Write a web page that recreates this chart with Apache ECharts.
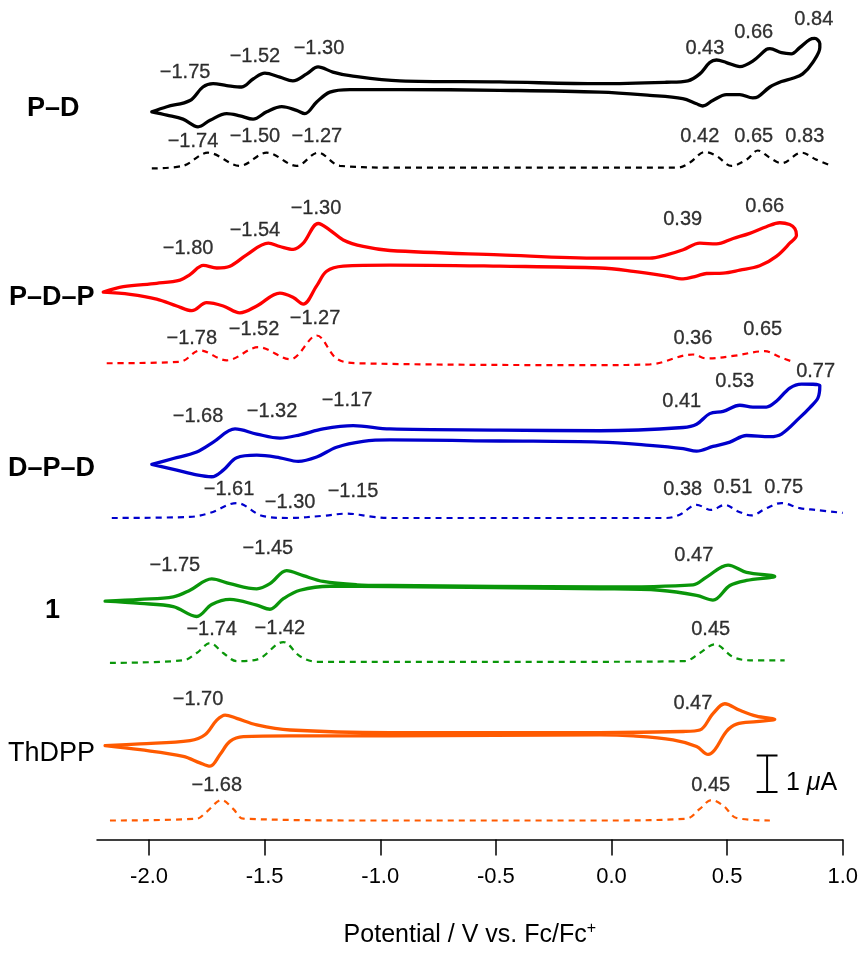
<!DOCTYPE html>
<html>
<head>
<meta charset="utf-8">
<script src="https://cdn.jsdelivr.net/npm/echarts@6/dist/echarts.min.js"></script>
<style>
html,body{margin:0;padding:0;background:#fff;}
#chart{width:861px;height:953px;}
</style>
</head>
<body>
<div id="chart"></div>
<script>
// ---------- data ----------
const potentialTicks = [-2.0, -1.5, -1.0, -0.5, 0.0, 0.5, 1.0];
const traceNames = ['P–D', 'P–D–P', 'D–P–D', '1', 'ThDPP'];
const traceColors = ['#000000', '#ff0000', '#0000cc', '#0a960a', '#ff5a00'];
// vertical offsets of each trace (µA)
const cvOffsets = [20.57, 15.76, 10.95, 6.89, 2.84];
const dpvOffsets = [18.41, 13.05, 8.81, 4.86, 0.54];

// cyclic voltammograms [potential V, current µA]
const cvPD = [[-1.988,-0.63],[-1.923,-0.49],[-1.823,-0.32],[-1.767,0.05],[-1.723,0.14],[-1.664,0.09],[-1.599,0.05],[-1.550,0.27],[-1.499,0.43],[-1.434,0.32],[-1.378,0.22],[-1.318,0.41],[-1.269,0.60],[-1.205,0.46],[-1.131,0.36],[-0.915,0.22],[-0.483,0.19],[-0.050,0.14],[0.238,0.18],[0.330,0.22],[0.382,0.41],[0.425,0.72],[0.454,0.79],[0.497,0.72],[0.555,0.61],[0.611,0.76],[0.670,1.08],[0.685,1.10],[0.735,0.99],[0.778,0.96],[0.814,1.13],[0.857,1.35],[0.879,1.38],[0.901,1.24],[0.901,1.13],[0.870,0.72],[0.827,0.41],[0.784,0.29],[0.735,0.20],[0.685,0.05],[0.633,-0.22],[0.611,-0.25],[0.555,-0.16],[0.497,-0.16],[0.438,-0.32],[0.395,-0.47],[0.368,-0.41],[0.308,-0.27],[0.166,-0.18],[-0.050,-0.09],[-0.483,-0.04],[-0.915,-0.02],[-1.131,-0.02],[-1.218,-0.09],[-1.275,-0.36],[-1.326,-0.68],[-1.362,-0.59],[-1.426,-0.49],[-1.491,-0.63],[-1.550,-0.83],[-1.607,-0.74],[-1.664,-0.68],[-1.736,-0.86],[-1.788,-1.04],[-1.853,-0.83],[-1.923,-0.72],[-1.988,-0.63]];
const cvPDP = [[-2.198,-0.76],[-2.111,-0.61],[-1.967,-0.52],[-1.866,-0.43],[-1.823,-0.28],[-1.765,-0.03],[-1.707,-0.10],[-1.650,-0.05],[-1.578,0.26],[-1.484,0.58],[-1.434,0.49],[-1.376,0.41],[-1.333,0.58],[-1.268,1.12],[-1.218,0.94],[-1.160,0.67],[-1.074,0.49],[-0.958,0.38],[-0.483,0.26],[-0.050,0.17],[0.166,0.17],[0.238,0.26],[0.310,0.40],[0.382,0.58],[0.454,0.56],[0.526,0.71],[0.598,0.85],[0.670,1.03],[0.728,1.14],[0.771,1.09],[0.793,0.98],[0.800,0.80],[0.771,0.58],[0.713,0.22],[0.641,-0.04],[0.555,-0.16],[0.483,-0.24],[0.411,-0.25],[0.368,-0.32],[0.310,-0.40],[0.238,-0.32],[0.094,-0.19],[-0.050,-0.10],[-0.483,-0.05],[-0.958,-0.02],[-1.160,-0.05],[-1.232,-0.19],[-1.275,-0.59],[-1.333,-1.09],[-1.376,-0.91],[-1.434,-0.79],[-1.534,-1.14],[-1.607,-1.33],[-1.679,-1.14],[-1.751,-1.05],[-1.815,-1.27],[-1.880,-1.14],[-1.967,-0.95],[-2.082,-0.82],[-2.198,-0.76]];
const cvDPD = [[-1.988,-0.67],[-1.895,-0.51],[-1.794,-0.33],[-1.722,-0.06],[-1.628,0.30],[-1.534,0.16],[-1.434,0.05],[-1.347,0.14],[-1.247,0.30],[-1.117,0.39],[-0.958,0.30],[-0.483,0.27],[-0.050,0.25],[0.310,0.34],[0.368,0.43],[0.425,0.72],[0.483,0.78],[0.555,0.95],[0.612,0.90],[0.670,0.90],[0.713,1.06],[0.771,1.42],[0.822,1.53],[0.901,1.49],[0.893,1.15],[0.857,0.88],[0.814,0.61],[0.735,0.16],[0.685,0.09],[0.584,0.12],[0.512,-0.06],[0.439,-0.18],[0.368,-0.31],[0.310,-0.24],[0.166,-0.15],[-0.050,-0.06],[-0.483,-0.03],[-0.958,0.00],[-1.074,-0.04],[-1.189,-0.20],[-1.275,-0.47],[-1.355,-0.59],[-1.434,-0.49],[-1.534,-0.42],[-1.621,-0.49],[-1.679,-0.83],[-1.729,-1.01],[-1.794,-0.96],[-1.880,-0.83],[-1.988,-0.67]];
const cv1 = [[-2.190,-0.36],[-2.039,-0.31],[-1.895,-0.24],[-1.823,-0.06],[-1.729,0.25],[-1.650,0.12],[-1.534,-0.02],[-1.477,0.12],[-1.405,0.48],[-1.333,0.34],[-1.247,0.18],[-1.102,0.09],[-0.958,0.07],[-0.050,0.03],[0.353,0.09],[0.411,0.30],[0.504,0.63],[0.584,0.43],[0.706,0.32],[0.584,0.21],[0.512,0.07],[0.439,-0.33],[0.368,-0.20],[0.209,-0.06],[-0.050,-0.02],[-0.958,0.04],[-1.218,0.05],[-1.347,-0.06],[-1.419,-0.29],[-1.477,-0.58],[-1.534,-0.47],[-1.650,-0.31],[-1.729,-0.45],[-1.794,-0.78],[-1.895,-0.51],[-2.039,-0.42],[-2.190,-0.36]];
const cvThDPP = [[-2.190,-0.27],[-2.039,-0.22],[-1.823,-0.13],[-1.758,0.03],[-1.707,0.43],[-1.671,0.57],[-1.621,0.48],[-1.534,0.30],[-1.390,0.16],[-0.958,0.09],[-0.050,0.09],[0.310,0.12],[0.382,0.16],[0.439,0.61],[0.490,0.88],[0.555,0.70],[0.627,0.54],[0.706,0.45],[0.627,0.39],[0.541,0.32],[0.497,0.12],[0.447,-0.38],[0.418,-0.51],[0.368,-0.29],[0.266,-0.11],[0.094,0.00],[-0.050,0.03],[-0.958,0.00],[-1.390,0.00],[-1.592,-0.02],[-1.650,-0.15],[-1.693,-0.51],[-1.736,-0.83],[-1.780,-0.74],[-1.852,-0.56],[-2.039,-0.38],[-2.190,-0.27]];

// differential pulse voltammograms [potential V, current µA]
const dpvPD = [[-1.988,-0.02],[-1.853,0.05],[-1.745,0.41],[-1.607,0.05],[-1.491,0.41],[-1.362,0.05],[-1.269,0.41],[-1.174,0.05],[-0.915,0.00],[-0.050,0.00],[0.287,0.00],[0.339,0.14],[0.404,0.43],[0.454,0.32],[0.519,0.05],[0.584,0.22],[0.633,0.47],[0.685,0.27],[0.735,0.12],[0.822,0.41],[0.886,0.22],[0.944,0.07]];
const dpvPDP = [[-2.183,0.00],[-1.866,0.04],[-1.780,0.35],[-1.664,0.08],[-1.527,0.44],[-1.390,0.11],[-1.275,0.76],[-1.189,0.13],[-1.102,0.00],[-0.050,-0.05],[0.166,-0.03],[0.353,0.24],[0.411,0.13],[0.526,0.20],[0.663,0.33],[0.728,0.17],[0.793,0.02]];
const dpvDPD = [[-2.161,0.00],[-1.823,0.03],[-1.736,0.14],[-1.621,0.41],[-1.506,0.05],[-1.390,0.00],[-1.247,0.06],[-1.145,0.12],[-1.030,0.03],[-0.958,0.00],[-0.050,0.00],[0.238,0.00],[0.295,0.09],[0.368,0.36],[0.432,0.22],[0.490,0.36],[0.548,0.18],[0.605,0.07],[0.670,0.27],[0.735,0.41],[0.814,0.27],[0.886,0.22],[1.000,0.14]];
const dpv1 = [[-2.169,-0.02],[-1.852,0.05],[-1.794,0.25],[-1.736,0.52],[-1.679,0.25],[-1.621,0.03],[-1.534,0.07],[-1.419,0.55],[-1.347,0.16],[-1.275,0.01],[-0.987,0.01],[-0.050,0.01],[0.317,0.03],[0.382,0.25],[0.447,0.49],[0.526,0.14],[0.598,0.05],[0.749,0.05]];
const dpvThDPP = [[-2.169,-0.02],[-1.794,0.03],[-1.751,0.22],[-1.686,0.54],[-1.636,0.30],[-1.592,0.03],[-0.972,-0.02],[-0.050,-0.02],[0.324,0.03],[0.382,0.30],[0.432,0.54],[0.483,0.39],[0.541,0.05],[0.685,-0.02]];

// peak potential labels (V)
const peakTextPD  = ['−1.75','−1.52','−1.30','0.43','0.66','0.84','−1.74','−1.50','−1.27','0.42','0.65','0.83'];
const peakTextPDP = ['−1.80','−1.54','−1.30','0.39','0.66','−1.78','−1.52','−1.27','0.36','0.65'];
const peakTextDPD = ['−1.68','−1.32','−1.17','0.41','0.53','0.77','−1.61','−1.30','−1.15','0.38','0.51','0.75'];
const peakText1   = ['−1.75','−1.45','0.47','−1.74','−1.42','0.45'];
const peakTextThDPP = ['−1.70','0.47','−1.68','0.45'];

// ---------- layout (label anchors in axis coordinates) ----------
const labelAnchorsPD  = [[-1.844,21.03],[-1.542,21.46],[-1.265,21.68],[0.404,21.68],[0.615,22.11],[0.875,22.46],[-1.810,19.14],[-1.542,19.27],[-1.274,19.27],[0.382,19.27],[0.615,19.27],[0.836,19.27]];
const labelAnchorsPDP = [[-1.831,16.20],[-1.542,16.70],[-1.278,17.28],[0.308,16.98],[0.663,17.35],[-1.815,13.74],[-1.546,13.97],[-1.282,14.28],[0.352,13.74],[0.654,13.97]];
const labelAnchorsDPD = [[-1.788,11.60],[-1.468,11.74],[-1.144,12.03],[0.304,12.01],[0.533,12.54],[0.883,12.82],[-1.654,9.58],[-1.390,9.24],[-1.118,9.54],[0.308,9.58],[0.525,9.65],[0.745,9.65]];
const labelAnchors1   = [[-1.888,7.52],[-1.486,7.97],[0.356,7.78],[-1.729,5.75],[-1.434,5.78],[0.429,5.76]];
const labelAnchorsThDPP = [[-1.788,3.84],[0.352,3.73],[-1.707,1.49],[0.429,1.49]];

const scaleBar = {x: 0.673, y0: 1.30, length: 1, cap: 0.045};

const cvList = [cvPD, cvPDP, cvDPD, cv1, cvThDPP];
const dpvList = [dpvPD, dpvPDP, dpvDPD, dpv1, dpvThDPP];
const textList = [peakTextPD, peakTextPDP, peakTextDPD, peakText1, peakTextThDPP];
const anchorList = [labelAnchorsPD, labelAnchorsPDP, labelAnchorsDPD, labelAnchors1, labelAnchorsThDPP];

const FONT = '"Liberation Sans", Arial, Helvetica, sans-serif';

const series = [];
cvList.forEach((arr, i) => {
  series.push({
    type: 'line', name: traceNames[i] + ' CV',
    data: arr.map(p => [p[0], p[1] + cvOffsets[i]]),
    showSymbol: false, smooth: 0.35, silent: true, animation: false,
    lineStyle: {color: traceColors[i], width: 3.3, join: 'round', cap: 'round'}
  });
});
dpvList.forEach((arr, i) => {
  series.push({
    type: 'line', name: traceNames[i] + ' DPV',
    data: arr.map(p => [p[0], p[1] + dpvOffsets[i]]),
    showSymbol: false, smooth: 0.35, silent: true, animation: false,
    lineStyle: {color: traceColors[i], width: 2.2, type: [6, 5]}
  });
});
const labelData = [];
textList.forEach((txts, i) => {
  txts.forEach((t, j) => labelData.push({name: t, value: anchorList[i][j]}));
});
series.push({
  type: 'scatter', data: labelData, symbolSize: 0, silent: true, clip: false, animation: false,
  label: {show: true, position: 'inside', formatter: p => p.name, color: '#000', fontSize: 20,
    fontFamily: FONT, textBorderColor: '#000', textBorderWidth: 0.3}
});
// scale bar
const sbTop = scaleBar.y0 + scaleBar.length;
[[[scaleBar.x, scaleBar.y0], [scaleBar.x, sbTop]],
 [[scaleBar.x - scaleBar.cap, scaleBar.y0], [scaleBar.x + scaleBar.cap, scaleBar.y0]],
 [[scaleBar.x - scaleBar.cap, sbTop], [scaleBar.x + scaleBar.cap, sbTop]]].forEach(seg => {
  series.push({type: 'line', data: seg, showSymbol: false, silent: true, animation: false,
    lineStyle: {color: '#000', width: 2}});
});

const chart = echarts.init(document.getElementById('chart'), null, {renderer: 'canvas'});
chart.setOption({
  animation: false,
  backgroundColor: '#fff',
  grid: {left: 97, right: 18, top: 10, bottom: 102},
  xAxis: {
    type: 'value', min: -2.225, max: 1.0,
    name: 'Potential / V vs. Fc/Fc{sup|+}',
    nameLocation: 'middle', nameGap: 81,
    nameTextStyle: {fontSize: 25, color: '#000', fontFamily: FONT,
      rich: {sup: {fontSize: 16, verticalAlign: 'top', padding: [0,0,14,0], color: '#000', fontFamily: FONT}}},
    axisLine: {show: true, onZero: false, lineStyle: {color: '#000', width: 1.5}},
    axisTick: {show: true, customValues: potentialTicks, length: 16, inside: false, lineStyle: {color: '#000', width: 1.5}},
    axisLabel: {show: true, customValues: potentialTicks, formatter: v => v.toFixed(1), margin: 26, fontSize: 22, color: '#000', fontFamily: FONT},
    splitLine: {show: false}
  },
  yAxis: {type: 'value', min: 0, max: 22.73, show: false, splitLine: {show: false}},
  graphic: [
    {type: 'text', left: 27, top: 95, style: {text: 'P–D', font: 'bold 27px ' + FONT, fill: '#000'}},
    {type: 'text', left: 9, top: 284, style: {text: 'P–D–P', font: 'bold 27px ' + FONT, fill: '#000'}},
    {type: 'text', left: 8, top: 455, style: {text: 'D–P–D', font: 'bold 27px ' + FONT, fill: '#000'}},
    {type: 'text', left: 45, top: 597, style: {text: '1', font: 'bold 27px ' + FONT, fill: '#000'}},
    {type: 'text', left: 8, top: 740, style: {text: 'ThDPP', font: '27px ' + FONT, fill: '#000'}},
    {type: 'text', left: 786, top: 771, style: {text: '1 {i|μ}A', font: '25px ' + FONT, fill: '#000',
      rich: {i: {fontStyle: 'italic', fontSize: 25, fontFamily: FONT, fill: '#000'}}}}
  ],
  series: series
});
</script>
</body>
</html>
